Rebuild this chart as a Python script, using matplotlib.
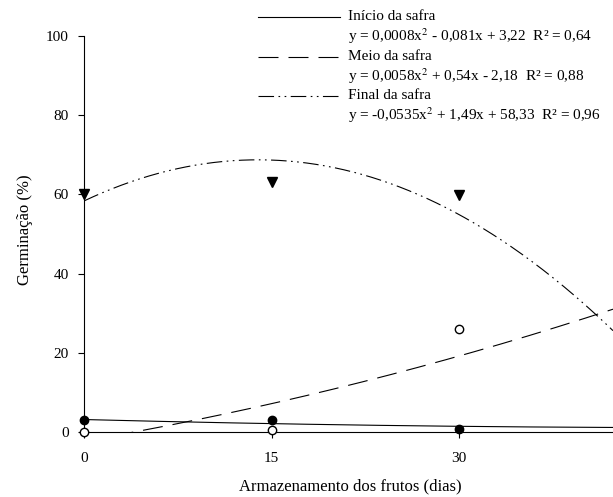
import numpy as np
import matplotlib
matplotlib.use("Agg")
import matplotlib.pyplot as plt
from matplotlib.lines import Line2D

plt.rcParams["font.family"] = ["Liberation Serif", "DejaVu Serif"]
plt.rcParams["mathtext.fontset"] = "stix"

# Storage time (days) and observed germination (%)
dias = [0, 15, 30]
inicio = [3.1, 3.1, 0.8]
meio = [0.0, 0.6, 26.0]
final = [60.0, 63.2, 59.8]

# Quadratic fits (a, b, c) for y = a*x^2 + b*x + c
coef_inicio = (0.0008, -0.081, 3.22)
coef_meio = (0.0058, 0.54, -2.18)
coef_final = (-0.0535, 1.49, 58.33)

labels = [
    ("Início da safra", "y = 0,0008x$^2$ - 0,081x + 3,22  R² = 0,64"),
    ("Meio da safra", "y = 0,0058x$^2$ + 0,54x - 2,18  R² = 0,88"),
    ("Final da safra", "y = -0,0535x$^2$ + 1,49x + 58,33  R² = 0,96"),
]
yticks = [0, 20, 40, 60, 80, 100]
xticks = [0, 15, 30]

W, H = 613, 497
fig = plt.figure(figsize=(W / 100, H / 100), dpi=100)
ax = fig.add_axes([84 / W, 1 - 432.3 / H, 1 - 84 / W, (432.3 - 35.7) / H])

xmax = 42.3
ax.set_xlim(0, xmax)
ax.set_ylim(0, 100)

styles = [
    dict(ls="-"),
    dict(ls=(0, (18, 9))),
    dict(ls=(0, (14, 4, 1.5, 4, 1.5, 4))),
]

xs = np.linspace(0, xmax, 400)
for coef, st in zip([coef_inicio, coef_meio, coef_final], styles):
    a, b, c = coef
    ys = a * xs ** 2 + b * xs + c
    ax.plot(xs, ys, color="black", lw=0.8, **st)

ax.plot(dias, inicio, "o", color="black", ms=6, clip_on=False, zorder=5)
ax.plot(dias, meio, "o", mfc="white", mec="black", mew=1.0, ms=6, clip_on=False, zorder=5)
ax.plot(dias, final, "v", color="black", ms=7.5, clip_on=False, zorder=5)

ax.spines["top"].set_visible(False)
ax.spines["right"].set_visible(False)
for s in ("left", "bottom"):
    ax.spines[s].set_linewidth(0.8)

ax.set_xticks(xticks)
ax.set_yticks(yticks)
ax.tick_params(axis="both", direction="out", length=4, width=0.8, labelsize=11)
ax.tick_params(axis="x", pad=10)
ax.tick_params(axis="y", pad=7)

ax.set_xlabel("Armazenamento dos frutos (dias)", fontsize=12)
ax.xaxis.set_label_coords((350 - 84) / (W - 84), (432.3 - 486) / 396.6)
ax.xaxis.label.set_va("center")
ax.set_ylabel("Germinação (%)", fontsize=12)
ax.yaxis.set_label_coords((25 - 84) / (W - 84), (432.3 - 230) / 396.6)
ax.yaxis.label.set_va("center")

def fx(px):
    return px / W

def fy(py):
    return 1 - py / H

title_rows = [17, 57, 96]
for (title, eq), st, py in zip(labels, styles, title_rows):
    fig.add_artist(Line2D([fx(258), fx(340)], [fy(py), fy(py)],
                          transform=fig.transFigure, color="black", lw=0.8, **st))
    fig.text(fx(348), fy(py), title, fontsize=11, va="center", ha="left")
    fig.text(fx(348), fy(py + 19.5), eq, fontsize=11, va="center", ha="left")

fig.savefig("out.png", dpi=100)
